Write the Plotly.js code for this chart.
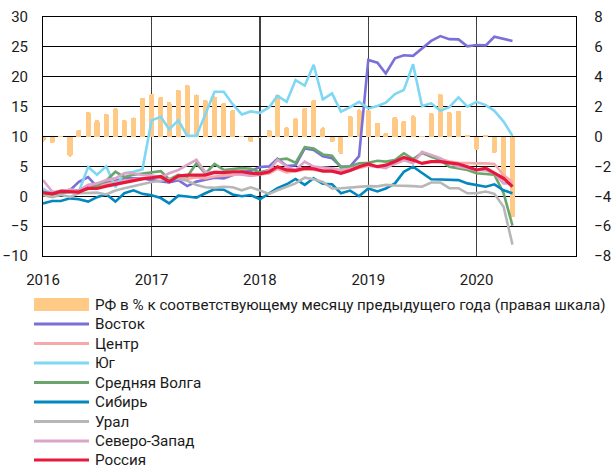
<!DOCTYPE html>
<html>
<head>
<meta charset="utf-8">
<script src="https://cdn.plot.ly/plotly-3.0.1.min.js"></script>
<style>html,body{margin:0;padding:0;background:#fff;}#chart{width:614px;height:468px;}</style>
</head>
<body>
<div id="chart"></div>
<script>
// Months (categories)
const months = [
 '2016-01','2016-02','2016-03','2016-04','2016-05','2016-06','2016-07','2016-08','2016-09','2016-10','2016-11','2016-12',
 '2017-01','2017-02','2017-03','2017-04','2017-05','2017-06','2017-07','2017-08','2017-09','2017-10','2017-11','2017-12',
 '2018-01','2018-02','2018-03','2018-04','2018-05','2018-06','2018-07','2018-08','2018-09','2018-10','2018-11','2018-12',
 '2019-01','2019-02','2019-03','2019-04','2019-05','2019-06','2019-07','2019-08','2019-09','2019-10','2019-11','2019-12',
 '2020-01','2020-02','2020-03','2020-04','2020-05'];
const yearTicks = ['2016-01-01','2017-01-01','2018-01-01','2019-01-01','2020-01-01'];
const yearLabels = ['2016','2017','2018','2019','2020'];

// RF, % y/y (right axis)
const rf = [-0.35,-0.45,0.05,-1.35,0.45,1.66,1.1,1.5,1.9,1.1,1.28,2.6,
 2.85,2.66,2.3,3.12,3.48,2.82,2.46,2.68,2.24,1.78,0.05,-0.4,
 -0.08,0.45,2.79,0.63,1.22,1.92,2.44,0.62,-0.4,-1.17,1.37,1.82,
 1.77,0.92,0.26,1.33,1.04,1.42,0.05,1.6,2.85,1.67,1.74,0.1,
 -0.9,0.1,-1.12,-3.0,-5.4];

const vostok = [1.0,0.5,0.9,1.0,2.4,3.2,1.6,2.2,2.6,3.0,3.0,3.0,
 2.7,2.5,2.3,2.7,1.7,2.45,2.8,3.1,3.0,3.5,4.1,4.2,
 4.9,5.0,6.3,5.05,5.2,8.0,7.75,6.7,6.35,4.95,5.0,6.7,
 22.8,22.35,20.55,23.1,23.6,23.5,24.75,26.0,26.8,26.3,26.25,25.1,
 25.3,25.25,26.7,26.35,26.0];
const centr = [0.7,0.5,0.9,0.9,1.0,1.9,1.8,2.0,2.4,2.6,2.8,3.0,
 3.2,3.1,2.6,3.2,2.9,3.2,3.0,3.3,3.4,3.6,3.7,3.5,
 3.6,3.8,4.6,4.0,4.2,4.5,4.4,4.3,4.3,4.0,4.4,4.8,
 5.1,4.9,5.0,5.4,6.0,5.9,7.2,6.7,6.3,5.8,5.6,5.5,
 5.5,5.5,5.4,3.5,2.4];
const yug = [1.3,0.3,0.5,0.6,0.8,4.9,3.6,5.0,1.5,3.85,4.1,4.5,
 12.7,13.3,11.2,12.7,10.1,10.1,13.9,17.5,17.5,15.4,13.7,14.2,
 13.95,14.9,16.8,15.8,19.45,18.5,22.0,16.2,17.2,14.15,14.9,15.8,
 14.7,15.1,15.65,17.1,17.8,22.1,15.1,15.55,14.3,14.9,16.55,15.0,
 15.8,15.25,14.3,12.5,10.1];
const volga = [0.5,0.3,0.6,0.8,0.9,1.2,1.8,2.6,4.1,3.2,3.6,3.8,
 4.0,4.2,2.8,3.6,3.3,5.5,3.8,5.4,4.4,4.5,4.7,4.6,
 4.0,4.4,6.1,6.3,5.6,8.2,8.0,7.0,6.8,4.8,5.0,5.5,
 5.6,5.95,5.8,6.05,7.2,6.2,7.3,6.6,6.05,4.95,4.7,4.4,
 3.85,3.75,3.6,0.5,-4.9];
const sibir = [-1.2,-0.8,-0.8,-0.35,-0.5,-0.9,-0.15,0.35,-0.9,0.5,1.0,0.4,
 0.15,-0.3,-1.2,0.1,-0.05,-0.25,0.5,1.15,1.1,0.3,0.0,0.2,
 -0.5,0.45,1.35,2.0,2.9,1.9,3.0,2.1,2.0,0.5,0.95,0.0,
 1.3,0.8,1.3,2.15,4.1,4.95,3.85,2.85,2.8,2.8,2.7,2.15,
 1.9,1.6,2.0,1.0,0.5];
const ural = [0.2,-0.15,0.2,-0.1,0.5,0.5,0.6,0.3,0.95,1.35,1.7,2.15,
 2.4,2.6,2.9,2.9,2.6,1.9,1.5,1.4,1.6,1.5,1.0,1.5,
 0.9,0.4,1.0,1.6,2.15,3.1,2.85,2.4,1.3,1.35,1.45,1.55,
 1.7,1.65,1.9,1.8,1.8,1.7,1.6,2.3,2.3,1.35,1.35,0.5,
 0.5,0.8,0.4,-1.75,-8.1];
const szap = [2.7,0.8,0.7,1.15,0.9,1.9,2.15,2.7,3.0,3.85,3.85,3.55,
 3.5,3.1,3.85,4.4,5.25,6.1,4.0,4.0,4.1,3.85,3.6,3.4,
 3.6,4.4,6.1,4.95,4.4,5.8,4.95,4.8,4.7,4.4,4.6,5.05,
 5.2,4.95,4.7,5.5,6.05,5.5,7.45,6.9,6.35,5.5,4.95,4.7,
 4.4,4.3,3.85,2.15,2.15];
const russia = [0.6,0.4,0.8,0.7,0.7,1.35,1.3,1.7,2.0,2.4,2.7,2.9,
 3.1,3.3,2.45,3.4,3.55,3.5,3.55,4.0,3.95,4.1,4.1,3.85,
 3.75,4.1,4.95,4.4,4.3,4.7,4.6,4.2,4.2,3.85,4.3,4.95,
 5.4,4.95,5.2,5.8,6.5,6.05,5.5,5.8,5.8,5.6,5.4,4.95,
 4.4,4.7,3.85,3.0,1.6];

const seriesNames = ['Восток','Центр','Юг','Средняя Волга','Сибирь','Урал','Северо-Запад','Россия'];
const seriesData = [vostok, centr, yug, volga, sibir, ural, szap, russia];
const seriesColors = ['#7b70d8','#f7a9a9','#7ed7f3','#6aa66c','#0287bf','#b7b7b7','#dba5c9','#e8183d'];
const seriesWidths = [2.6,2.6,2.6,2.6,2.6,2.6,2.6,3.2];
const barName = 'РФ в % к соответствующему месяцу предыдущего года (правая шкала)';
const barColor = '#ffc986';

const FONT = 'Roboto, "Noto Sans", sans-serif';
const W = 614, H = 468, ML = 43, MR = 38, MT = 17, MB = 212;
const PW = W - ML - MR, PH = H - MT - MB;
const px = x => (x - ML) / PW;
const py = y => (H - MB - y) / PH;

const traces = [];
const monthMs = 30.44 * 24 * 3600 * 1000;
traces.push({
  type: 'bar', x: months, y: rf, yaxis: 'y', name: barName,
  width: months.map(() => 0.56 * monthMs),
  marker: {color: barColor, cornerradius: 3, line: {width: 0}},
  hoverinfo: 'skip', showlegend: false
});
seriesNames.forEach((n, k) => {
  traces.push({
    type: 'scatter', mode: 'lines', x: months, y: seriesData[k], yaxis: 'y2', name: n,
    line: {color: seriesColors[k], width: seriesWidths[k], shape: 'linear'},
    hoverinfo: 'skip', showlegend: false
  });
});

// custom legend
const shapes = [];
const annotations = [];
const rowY = [304.5, 324, 343.5, 363, 382.5, 402, 421.5, 441, 460];
const swL = 34, swR = 89, txtX = 93;
const legNames = [barName].concat(seriesNames);
legNames.forEach((n, k) => {
  const yc = rowY[k];
  if (k === 0) {
    shapes.push({type: 'rect', xref: 'paper', yref: 'paper', x0: px(swL), x1: px(swR),
      y0: py(yc + 6.5), y1: py(yc - 6.5), fillcolor: barColor, line: {width: 0}, layer: 'above'});
  } else {
    shapes.push({type: 'line', xref: 'paper', yref: 'paper', x0: px(swL), x1: px(swR),
      y0: py(yc), y1: py(yc), line: {color: seriesColors[k - 1], width: 3}, layer: 'above'});
  }
  annotations.push({xref: 'paper', yref: 'paper', x: px(txtX), y: py(yc), xanchor: 'left', yanchor: 'middle',
    text: n, showarrow: false, font: {family: FONT, size: 15.2, color: '#1a1a1a'}});
});

const layout = {
  width: W, height: H,
  margin: {l: ML, r: MR, t: MT, b: MB, pad: 0},
  paper_bgcolor: '#fff', plot_bgcolor: '#fff',
  showlegend: false,
  bargap: 0,
  font: {family: FONT, size: 15, color: '#1a1a1a'},
  xaxis: {
    type: 'date', range: ['2016-01-01', '2020-12-01'],
    tickvals: yearTicks, ticktext: yearLabels,
    showgrid: true, gridcolor: '#404040', gridwidth: 1.5,
    showline: true, mirror: true, linecolor: '#000', linewidth: 1.3,
    zeroline: false, ticks: '', ticklabelstandoff: 10,
    tickfont: {family: FONT, size: 15, color: '#1a1a1a'}
  },
  yaxis: {
    range: [-8, 8], tickvals: [-8,-6,-4,-2,0,2,4,6,8], side: 'right',
    showgrid: true, gridcolor: '#000', gridwidth: 1,
    showline: true, mirror: true, linecolor: '#000', linewidth: 1.3,
    zeroline: false, ticks: '', ticklabelstandoff: 14,
    tickfont: {family: FONT, size: 15, color: '#1a1a1a'}
  },
  yaxis2: {
    range: [-10, 30], tickvals: [-10,-5,0,5,10,15,20,25,30], side: 'left', overlaying: 'y',
    showgrid: false, zeroline: false, showline: false, ticks: '', ticklabelstandoff: 14,
    tickfont: {family: FONT, size: 15, color: '#1a1a1a'}
  },
  shapes: shapes,
  annotations: annotations
};

Plotly.newPlot('chart', traces, layout, {displayModeBar: false, staticPlot: true});
</script>
</body>
</html>
